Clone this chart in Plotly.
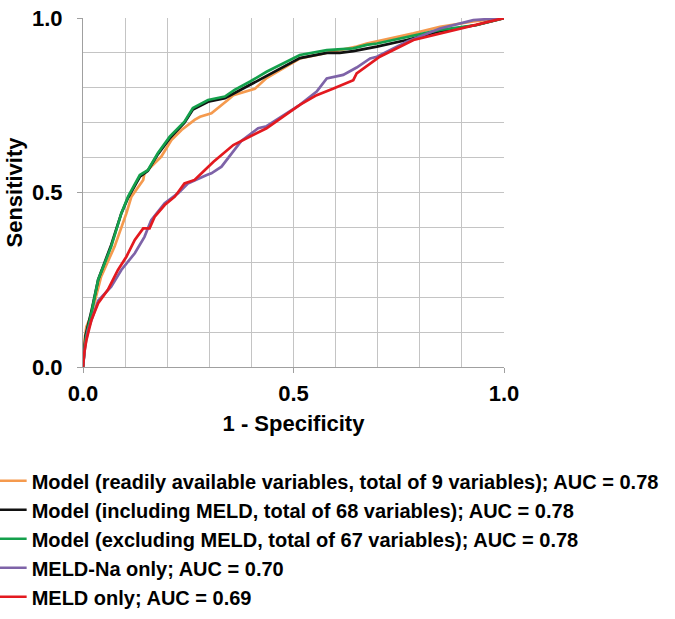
import plotly.graph_objects as go

# ---- data ----
readily_fpr = [0.0, 0.004, 0.008, 0.02, 0.043, 0.075, 0.103, 0.115, 0.143, 0.146, 0.186, 0.21, 0.234, 0.265, 0.278, 0.305, 0.344, 0.357, 0.408, 0.436, 0.515, 0.595, 0.65, 0.674, 0.785, 0.848, 0.927, 1.0]
readily_tpr = [0.0, 0.08, 0.115, 0.15, 0.259, 0.345, 0.44, 0.488, 0.536, 0.555, 0.603, 0.65, 0.679, 0.708, 0.717, 0.727, 0.765, 0.779, 0.797, 0.828, 0.884, 0.903, 0.918, 0.927, 0.956, 0.975, 0.99, 1.0]

incl_fpr = [0.0, 0.006, 0.02, 0.036, 0.067, 0.091, 0.107, 0.135, 0.154, 0.178, 0.206, 0.241, 0.261, 0.297, 0.337, 0.36, 0.397, 0.436, 0.515, 0.579, 0.61, 0.642, 0.698, 0.769, 0.848, 0.935, 1.0]
incl_tpr = [0.0, 0.09, 0.16, 0.25, 0.35, 0.44, 0.485, 0.545, 0.562, 0.61, 0.655, 0.7, 0.738, 0.76, 0.77, 0.785, 0.808, 0.835, 0.885, 0.9, 0.9, 0.905, 0.918, 0.937, 0.962, 0.98, 1.0]

excl_fpr = [0.0, 0.006, 0.02, 0.036, 0.067, 0.091, 0.107, 0.135, 0.154, 0.178, 0.206, 0.241, 0.261, 0.297, 0.337, 0.36, 0.397, 0.436, 0.515, 0.579, 0.642, 0.674, 0.698, 0.769, 0.848, 0.935, 1.0]
excl_tpr = [0.0, 0.08, 0.155, 0.25, 0.345, 0.44, 0.488, 0.55, 0.564, 0.613, 0.66, 0.703, 0.742, 0.765, 0.775, 0.794, 0.818, 0.846, 0.894, 0.908, 0.913, 0.923, 0.927, 0.946, 0.966, 0.98, 1.0]

meldna_fpr = [0.0, 0.005, 0.012, 0.036, 0.067, 0.091, 0.123, 0.146, 0.162, 0.194, 0.226, 0.249, 0.294, 0.305, 0.329, 0.376, 0.416, 0.436, 0.515, 0.555, 0.579, 0.618, 0.65, 0.682, 0.698, 0.769, 0.848, 0.927, 1.0]
meldna_tpr = [0.0, 0.06, 0.106, 0.19, 0.23, 0.278, 0.326, 0.373, 0.421, 0.469, 0.498, 0.526, 0.55, 0.555, 0.574, 0.648, 0.684, 0.69, 0.751, 0.789, 0.827, 0.837, 0.858, 0.884, 0.889, 0.932, 0.97, 0.994, 1.0]

meld_fpr = [0.0, 0.003, 0.008, 0.02, 0.036, 0.059, 0.083, 0.103, 0.123, 0.143, 0.158, 0.17, 0.194, 0.218, 0.241, 0.265, 0.289, 0.31, 0.357, 0.436, 0.515, 0.555, 0.595, 0.642, 0.65, 0.705, 0.785, 0.848, 0.927, 1.0]
meld_tpr = [0.0, 0.04, 0.077, 0.135, 0.183, 0.221, 0.278, 0.316, 0.364, 0.397, 0.397, 0.43, 0.464, 0.488, 0.526, 0.536, 0.564, 0.588, 0.636, 0.684, 0.751, 0.779, 0.798, 0.822, 0.841, 0.889, 0.937, 0.956, 0.98, 1.0]

names = [
    "Model (readily available variables, total of 9 variables); AUC = 0.78",
    "Model (including MELD, total of 68 variables); AUC = 0.78",
    "Model (excluding MELD, total of 67 variables); AUC = 0.78",
    "MELD-Na only; AUC = 0.70",
    "MELD only; AUC = 0.69",
]
colors = ["#F59A4E", "#111111", "#14A04C", "#7E63A8", "#E3191F"]
series = [
    (readily_fpr, readily_tpr),
    (incl_fpr, incl_tpr),
    (excl_fpr, excl_tpr),
    (meldna_fpr, meldna_tpr),
    (meld_fpr, meld_tpr),
]

tick_vals = [0.0, 0.5, 1.0]
tick_text = ["0.0", "0.5", "1.0"]

FONT = "Liberation Sans, Arial, sans-serif"

fig = go.Figure()
for i, ((xs, ys), nm, c) in enumerate(zip(series, names, colors)):
    fig.add_trace(go.Scatter(
        x=xs, y=ys, mode="lines", name=nm, legendgroup=f"g{i}",
        line=dict(color=c, width=2.7), showlegend=True,
    ))

grid = "#C4C4C4"
fig.update_layout(
    width=675, height=619,
    margin=dict(l=83, r=171, t=18, b=252, autoexpand=False),
    paper_bgcolor="white", plot_bgcolor="white",
    font=dict(family=FONT, color="black"),
    legend=dict(
        x=-0.217, y=-0.27, xanchor="left", yanchor="top",
        font=dict(family=FONT, size=20, color="black", weight="bold"),
        tracegroupgap=6, traceorder="normal",
        bgcolor="rgba(0,0,0,0)",
        itemwidth=30,
    ),
    xaxis=dict(
        range=[0, 1], tickvals=tick_vals, ticktext=tick_text,
        showgrid=True, gridcolor=grid, gridwidth=1,
        minor=dict(dtick=0.1, showgrid=True, gridcolor=grid, gridwidth=1, ticks=""),
        showline=True, linecolor="#A0A0A0", linewidth=1,
        ticks="outside", ticklen=5, tickcolor="#A0A0A0",
        tickfont=dict(size=22, weight="bold"),
        ticklabelstandoff=2,
        zeroline=False, automargin=False,
        title=dict(text="1 - Specificity", font=dict(size=22, weight="bold"), standoff=10),
    ),
    yaxis=dict(
        range=[0, 1], tickvals=tick_vals, ticktext=tick_text,
        showgrid=True, gridcolor=grid, gridwidth=1,
        minor=dict(dtick=0.1, showgrid=True, gridcolor=grid, gridwidth=1, ticks=""),
        showline=True, linecolor="#A0A0A0", linewidth=1,
        ticks="outside", ticklen=5, tickcolor="#A0A0A0",
        tickfont=dict(size=22, weight="bold"),
        ticklabelstandoff=10,
        zeroline=False, automargin=False,
        title=dict(text="Sensitivity", font=dict(size=22, weight="bold"), standoff=3),
    ),
)

fig.write_html(
    "out.html",
    config={"displayModeBar": False},
    post_script="document.body.style.margin='0px';document.body.style.overflow='hidden';",
)
